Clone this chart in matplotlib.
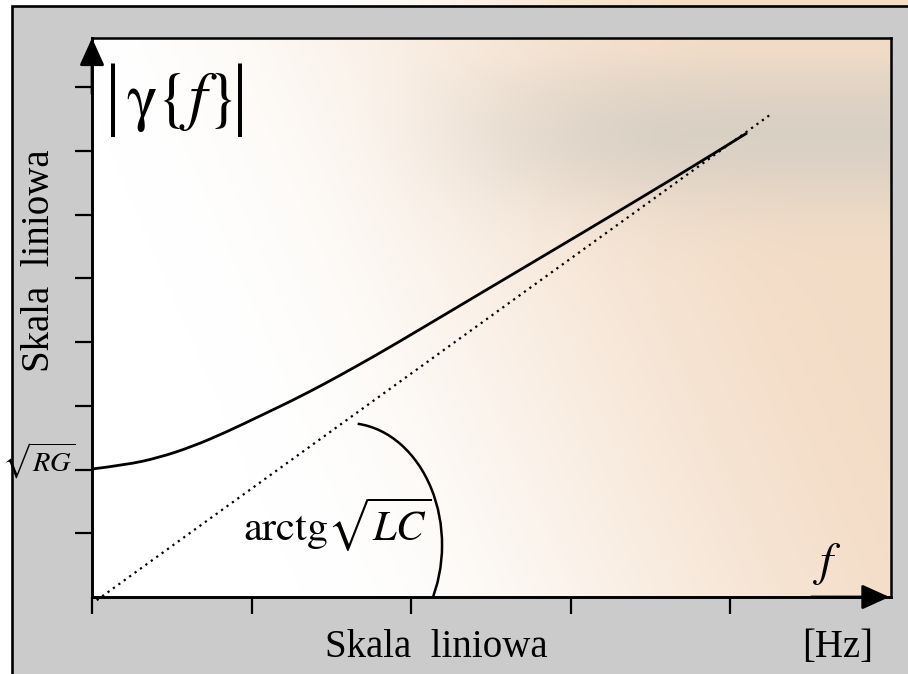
import numpy as np
import matplotlib
matplotlib.use("Agg")
import matplotlib.pyplot as plt
from matplotlib.patches import Rectangle, Arc, PathPatch
from matplotlib.path import Path
from matplotlib.transforms import blended_transform_factory

plt.rcParams['font.family'] = ['Liberation Serif', 'DejaVu Serif']
plt.rcParams['mathtext.fontset'] = 'stix'

# |gamma(f)| (linear scale, arbitrary units)
freq = [0.0, 0.209, 0.418, 0.627, 0.836, 1.045, 1.254, 1.463, 1.672, 1.881,
        2.433, 3.060, 3.687, 4.107]
gamma = [2.008, 2.071, 2.185, 2.358, 2.58, 2.83, 3.08, 3.35, 3.64, 3.937,
         4.76, 5.69, 6.63, 7.28]

# asymptote with slope sqrt(LC)
asym_f = [0.03, 4.26]
asym_g = [-0.05, 7.58]

rg_level = 2.0
x_ticks = [0, 1, 2, 3, 4]
y_ticks = [1, 2, 3, 4, 5, 6, 7, 8]
x_max = 5.009
y_max = 8.769

# angle marker (ellipse arc) in data units
arc_center = (1.599, 0.816)
arc_w, arc_h = 1.191, 3.827


def smooth(t):
    t = np.clip(t, 0, 1)
    return t * t * (3 - 2 * t)


def background(h=140, w=200):
    u, v = np.meshgrid(np.linspace(0, 1, w), np.linspace(1, 0, h))
    peach = np.array([0.955, 0.865, 0.78])
    gray = np.array([0.82, 0.80, 0.765])
    p = smooth((u - 0.12 - 0.3 * (0.5 - v)) / 0.85)
    g = np.exp(-((v - 0.83) / 0.13) ** 2) * smooth((u - 0.3) / 0.45) * 0.75
    g *= 1 - 0.6 * smooth((v - 0.93) / 0.07)
    img = np.ones((h, w, 3)) * (1 - p[..., None]) + peach * p[..., None]
    img = img * (1 - g[..., None]) + gray * g[..., None]
    return img


def smooth_path(xs, ys):
    # quadratic spline through midpoints of the read points
    pts = np.column_stack([xs, ys])
    verts = [pts[0]]
    codes = [Path.MOVETO]
    for i in range(1, len(pts) - 1):
        mid = (pts[i] + pts[i + 1]) / 2
        verts += [pts[i], mid]
        codes += [Path.CURVE3, Path.CURVE3]
    verts.append(pts[-1])
    codes.append(Path.LINETO)
    return Path(verts, codes)


fig = plt.figure(figsize=(9.08, 6.74), dpi=100)

# thin strip above the grey panel
strip = fig.add_axes([0, 668 / 674, 1, 6 / 674])
su = np.linspace(0, 1, 300)
sp = smooth((su - 0.3) / 0.5)
strip_img = np.ones((1, 300, 3)) * (1 - sp[None, :, None]) + np.array([0.96, 0.875, 0.76]) * sp[None, :, None]
strip.imshow(strip_img, aspect='auto', extent=(0, 1, 0, 1))
strip.axis('off')
strip.set_zorder(0)

fig.patches.append(Rectangle((12 / 908, -0.1), 1.1, 668 / 674 + 0.1,
                             transform=fig.transFigure, facecolor='#cbcbcb',
                             edgecolor='black', lw=1.9, zorder=1))

ax = fig.add_axes([92 / 908, 77 / 674, 799 / 908, 559 / 674])
ax.set_zorder(2)
ax.imshow(background(), extent=(0, x_max, 0, y_max), aspect='auto',
          interpolation='bicubic', zorder=0)
ax.set_xlim(0, x_max)
ax.set_ylim(0, y_max)

ax.add_patch(PathPatch(smooth_path(freq, gamma), facecolor='none',
                       edgecolor='black', lw=2.0, capstyle='butt', zorder=3))
ax.plot(asym_f, asym_g, color='black', lw=1.6, linestyle=(0, (1, 2.0)),
        clip_on=False, zorder=3)
ax.add_patch(Arc(arc_center, arc_w, arc_h, theta1=-60, theta2=88,
                 color='black', lw=1.8, zorder=3))

for name, sp_ in ax.spines.items():
    sp_.set_color('black')
    sp_.set_linewidth(2.1 if name in ('left', 'bottom') else 1.8)
    sp_.set_zorder(4)

ax.set_xticks(x_ticks)
ax.set_yticks(y_ticks)
ax.tick_params(direction='out', length=12, width=1.6, labelbottom=False,
               labelleft=False, color='black')

arrow = dict(arrowstyle='-|>,head_length=0.42,head_width=0.19', color='black',
             lw=2, shrinkA=0, shrinkB=0, mutation_scale=40)
ax.annotate('', xy=(0, 1.0), xytext=(0, 0.9), xycoords='axes fraction',
            arrowprops=arrow, annotation_clip=False, zorder=5)
ax.annotate('', xy=(0.998, 0), xytext=(0.9, 0), xycoords='axes fraction',
            arrowprops=arrow, annotation_clip=False, zorder=5)

# |gamma{f}| : bars as separate taller glyphs
ax.text(0.132, 7.8, '|', fontsize=58, ha='center', va='center', zorder=5)
ax.text(0.546, 7.76, r'$\mathrm{\gamma}\{f\}$', fontsize=47,
        ha='center', va='center', zorder=5)
ax.text(0.93, 7.8, '|', fontsize=58, ha='center', va='center', zorder=5)

ax.text(0.947, 0.87, r'$\mathrm{arctg}\sqrt{LC}$', fontsize=30.5,
        ha='left', va='baseline', zorder=5)
ax.text(4.52, 0.345, r'$f$', fontsize=34, ha='left', va='baseline', zorder=5)

trans = blended_transform_factory(ax.transAxes, ax.transData)
ax.text(-0.021, rg_level - 0.03, r'$\sqrt{RG}$', fontsize=20.5, ha='right',
        va='baseline', transform=trans, clip_on=False, zorder=5)

fig.text(436 / 908, 17 / 674, 'Skala  liniowa', fontsize=28, ha='center',
         va='baseline', zorder=3)
fig.text(873 / 908, 17 / 674, '[Hz]', fontsize=28, ha='right',
         va='baseline', zorder=3)
fig.text(40 / 908, 1 - 261 / 674, 'Skala  liniowa', fontsize=28, ha='center',
         va='center', rotation=90, zorder=3)

fig.savefig('out.png', dpi=100)
